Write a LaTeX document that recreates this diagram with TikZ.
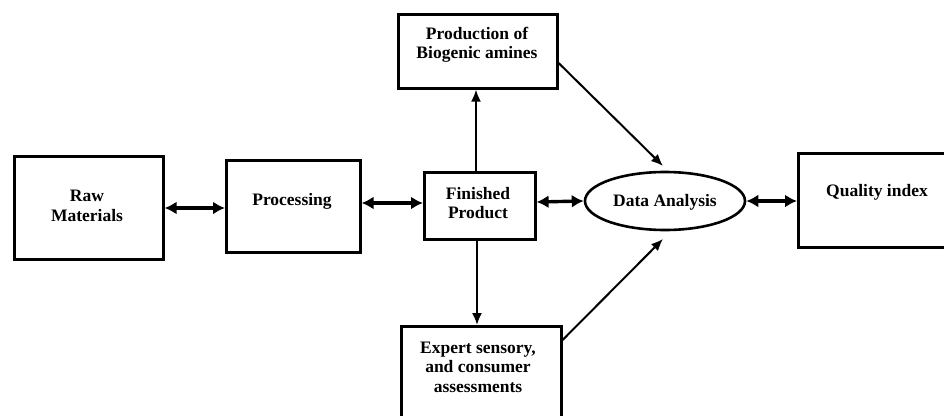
\documentclass[tikz,border=0pt]{standalone}
\usepackage{fontspec}
\setmainfont{Liberation Serif}
\usetikzlibrary{arrows.meta,shapes.geometric}
\begin{document}
\begin{tikzpicture}[x=1pt,y=-1pt,
  box/.style={draw,line width=2.6pt,inner sep=0pt,anchor=north west},
  dbl/.style={line width=3.4pt,{Latex[length=12pt,width=13pt]}-{Latex[length=12pt,width=13pt]}},
  sgl/.style={line width=2pt,-{Latex[length=12pt,width=10pt]}},
  lbl/.style={font=\fontsize{17.5}{19.5}\selectfont\bfseries,align=center}]
\useasboundingbox[fill=white] (0,0) rectangle (944,415);
% boxes
\node[box,minimum width=149pt,minimum height=103pt] (raw) at (13,155) {};
\node[lbl] at (87,206) {Raw\\Materials};
\node[box,minimum width=134pt,minimum height=92pt] (proc) at (225,159) {};
\node[lbl] at (292,201) {Processing};
\node[box,minimum width=111pt,minimum height=67pt] (fin) at (423,171) {};
\node[lbl] at (478,203) {Finished\\Product};
\node[box,minimum width=159pt,minimum height=74pt] (prod) at (397,13) {};
\node[lbl] at (477,45) {Production of\\Biogenic amines};
\node[box,minimum width=160pt,minimum height=100pt] (exp) at (400,325) {};
\node[lbl] at (478,367) {Expert sensory,\\and consumer\\assessments};
\node[draw,ellipse,line width=2.6pt,minimum width=160pt,minimum height=58pt,inner sep=0pt] (da) at (665,201) {};
\node[lbl] at (665,202) {Data Analysis};
\node[box,minimum width=160pt,minimum height=94pt] (qi) at (797,152) {};
\node[lbl] at (877,192) {Quality index};
% connectors
\coordinate (a1) at (raw.east |- 0,208);
\coordinate (a2) at (proc.west |- 0,208);
\draw[dbl] (a1) -- (a2);
\coordinate (b1) at (proc.east |- 0,203);
\coordinate (b2) at (fin.west |- 0,203);
\draw[dbl] (b1) -- (b2);
\coordinate (c1) at (fin.east |- 0,202);
\draw[dbl] (c1) -- (da.west);
\coordinate (d2) at (qi.west |- 0,201);
\draw[dbl] (da.east) -- (d2);
\coordinate (e1) at (476,0 |- fin.north);
\coordinate (e2) at (476,0 |- prod.south);
\draw[sgl] (e1) -- (e2);
\coordinate (f1) at (477,0 |- fin.south);
\coordinate (f2) at (477,0 |- exp.north);
\draw[sgl] (f1) -- (f2);
\coordinate (g1) at (prod.east |- 0,63);
\coordinate (g2) at (663,166);
\draw[sgl] (g1) -- (g2);
\coordinate (h1) at (exp.east |- 0,340);
\coordinate (h2) at (663,239);
\draw[sgl] (h1) -- (h2);
\end{tikzpicture}
\end{document}
